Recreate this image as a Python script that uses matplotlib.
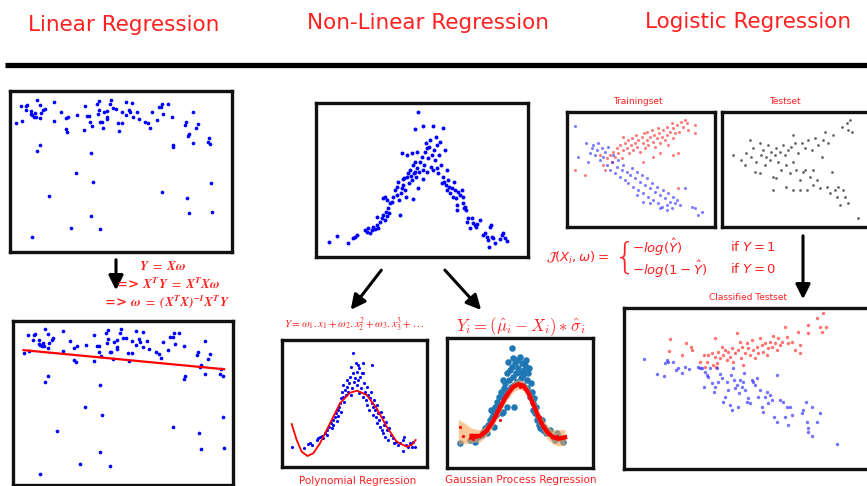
import matplotlib
matplotlib.use("Agg")
import matplotlib.pyplot as plt
import numpy as np

W, H = 867, 486
RED = "#ff2020"
HAND = ["DejaVu Sans"]

# ---- linear regression scatter (same points in both panels)
lin_x = [4.8, 6.5, 6.2, 7.8, 8.2, 7.7, 9.2, 9.2, 9.7, 10.4, 10.2, 10.8, 11.2, 12.0, 12.2, 12.0, 13.0, 13.4,
         16.2, 16.3, 18.3, 19.7, 20.5, 19.7, 20.0, 23.0, 25.5, 25.3, 26.2, 26.8, 27.0, 27.5, 29.0, 29.6, 29.6,
         29.3, 30.0, 30.5, 31.0, 31.2, 32.2, 32.2, 32.0, 33.2, 33.0, 34.0, 34.8, 35.3, 35.8, 36.5, 36.5, 37.7,
         37.7, 38.6, 39.0, 39.7, 39.8, 41.0, 41.6, 43.5, 44.5, 45.0, 45.7, 47.2, 47.6, 48.4, 48.7, 49.0, 50.4,
         51.7, 55.5, 55.8, 56.3, 56.8, 58.0, 58.8, 59.5, 62.6, 62.3, 63.1, 57.8, 51.8, 52.0,
         11.0, 12.0, 27.2, 22.8, 27.8, 14.6, 27.2, 21.3, 30.0, 9.5, 48.5, 56.2, 56.7, 63.2, 63.5]
lin_y = [38.7, 39.2, 43.7, 43.7, 44.0, 42.4, 42.2, 41.2, 41.0, 41.6, 40.5, 40.5, 45.4, 44.0, 41.5, 40.0, 42.4, 42.8,
         44.8, 39.2, 42.0, 40.2, 40.5, 36.7, 36.0, 41.0, 43.8, 36.5, 40.7, 40.6, 38.8, 37.8, 44.2, 45.2, 42.6,
         41.4, 38.8, 39.0, 37.0, 41.8, 42.2, 40.4, 39.8, 45.5, 44.2, 43.0, 42.8, 38.7, 36.3, 42.0, 38.7, 44.8,
         41.0, 42.5, 41.8, 44.7, 40.3, 42.0, 39.7, 38.8, 38.5, 37.2, 41.8, 39.6, 43.3, 43.3, 44.4, 41.3, 44.4,
         40.5, 38.0, 38.8, 34.7, 35.2, 42.0, 37.0, 38.3, 34.2, 32.8, 32.2, 32.7, 31.4, 32.0,
         30.3, 32.0, 29.5, 23.5, 21.0, 16.6, 10.6, 7.2, 6.7, 4.5, 17.8, 16.0, 11.5, 20.6, 11.8]
lin_fit = [39.9, -0.092]  # intercept, slope

# ---- non-linear scatter
nl_x = [8.8, 11.0, 14.5, 16.0, 16.5, 17.2, 19.5, 20.0, 20.5, 21.0, 21.5, 22.0, 22.5, 23.0, 23.5, 23.2, 24.0,
        24.5, 25.0, 25.5, 25.8, 26.2, 26.5, 26.8, 25.0, 25.5, 26.0, 27.0, 27.5, 28.0, 28.5, 29.0, 29.2, 29.5,
        29.8, 30.0, 30.2, 30.5, 30.8, 31.0, 31.2, 31.5, 31.8, 32.0, 32.5, 32.8, 33.0, 33.3, 33.5, 33.8, 34.0,
        34.2, 34.5, 34.8, 35.0, 35.2, 35.5, 35.8, 36.0, 36.5, 36.8, 37.0, 37.2, 37.5, 37.8, 38.0, 38.2, 38.5,
        38.8, 39.0, 39.2, 39.5, 39.8, 40.0, 40.2, 40.5, 40.8, 41.0, 41.2, 41.5, 41.8, 42.0, 42.2, 42.5, 42.8,
        43.0, 43.2, 43.5, 43.8, 44.0, 44.2, 44.5, 44.8, 45.0, 45.5, 45.8, 46.2, 46.5, 46.8, 47.0, 47.2, 47.5,
        48.0, 48.5, 48.8, 49.0, 49.2, 49.5, 49.8, 50.0, 50.5, 51.0, 51.5, 52.0, 52.5, 53.0, 52.8, 54.0, 55.0,
        55.5, 56.0, 56.5, 56.8, 57.0, 57.2, 57.5, 58.0, 58.5, 60.0, 60.5, 61.0, 61.5, 62.0,
        35.5, 34.5, 37.0, 30.7, 32.0, 33.5, 34.5]
nl_y = [4.5, 6.2, 4.0, 5.5, 6.0, 6.5, 8.0, 7.5, 8.5, 7.2, 8.0, 9.0, 8.2, 9.5, 8.5, 12.0, 10.5,
        11.5, 12.5, 11.0, 13.5, 12.2, 14.5, 13.2, 17.5, 18.0, 17.0, 16.0, 16.5, 18.0, 20.0, 18.5, 21.0, 22.5,
        17.0, 12.5, 19.0, 20.5, 23.2, 21.5, 23.5, 20.0, 18.0, 24.0, 25.0, 22.0, 26.0, 24.2, 23.0, 17.2, 27.5,
        25.2, 28.5, 23.8, 26.5, 31.5, 20.5, 25.5, 28.5, 30.0, 23.2, 26.0, 27.5, 31.5, 34.0, 25.5, 32.5, 29.5,
        33.0, 35.0, 26.8, 30.5, 39.2, 26.0, 32.0, 29.0, 36.0, 33.5, 26.5, 25.0, 30.5, 34.5, 27.5, 22.0, 38.7,
        24.0, 22.5, 32.0, 21.5, 26.0, 20.0, 23.0, 21.0, 19.0, 20.5, 18.0, 22.5, 20.0, 17.5, 15.5, 14.0, 19.5,
        18.5, 20.0, 16.0, 18.0, 14.5, 15.0, 14.0, 10.5, 11.5, 8.5, 11.5, 10.0, 9.5, 9.8, 9.0, 11.0, 6.5,
        7.0, 6.0, 5.0, 3.0, 8.8, 9.5, 6.0, 5.5, 4.0, 5.2, 6.5, 7.0, 5.5, 4.8,
        43.5, 38.2, 39.3, 31.0, 30.5, 31.0, 25.5]

# ---- polynomial regression
poly_x = [6.5, 10.3, 11.5, 12.0, 12.5, 14.0, 14.5, 15.0, 15.5, 16.0, 16.5, 17.0, 17.2, 17.8, 18.2, 18.5, 18.8,
          19.0, 19.5, 19.8, 20.0, 20.3, 20.5, 20.8, 21.0, 21.2, 21.3, 21.5, 21.8, 22.0, 22.2, 22.5, 22.8, 23.0,
          23.2, 23.5, 23.8, 24.0, 24.2, 24.4, 24.6, 24.8, 25.0, 25.2, 25.5, 25.8, 26.0, 26.2, 26.4, 26.6, 26.8,
          27.0, 27.2, 27.5, 27.8, 28.0, 28.2, 28.5, 28.8, 29.0, 29.2, 29.5, 29.8, 30.0, 30.2, 30.5, 30.8, 31.0,
          31.2, 31.5, 31.8, 32.0, 32.2, 32.5, 32.8, 33.0, 33.3, 33.5, 33.8, 34.0, 34.2, 34.5, 34.8, 35.0, 35.5,
          35.8, 36.2, 36.8, 37.2, 37.8, 38.5, 39.0, 39.8, 40.0, 40.2, 40.8, 41.5, 42.0, 42.5, 43.0, 43.5,
          30.5, 28.0, 26.5]
poly_y = [14.8, 14.5, 15.8, 16.2, 15.5, 17.0, 17.5, 17.8, 18.2, 17.5, 19.0, 20.0, 18.5, 21.0, 22.0, 20.5, 23.0,
          21.5, 24.0, 25.0, 22.8, 26.0, 24.2, 27.0, 28.0, 25.5, 29.5, 31.5, 33.5, 30.0, 28.5, 32.0, 30.5, 33.0,
          35.0, 31.5, 34.0, 36.0, 39.0, 30.5, 32.5, 37.0, 43.0, 34.5, 35.5, 40.0, 33.5, 37.5, 35.0, 31.0, 38.5,
          36.0, 32.5, 37.0, 40.0, 30.0, 34.0, 31.5, 29.0, 33.0, 27.5, 30.5, 26.0, 29.5, 31.5, 28.0, 27.0, 24.5,
          29.0, 26.0, 24.0, 27.5, 22.0, 25.0, 23.0, 21.0, 25.5, 20.0, 24.0, 19.0, 21.5, 18.0, 22.5, 20.0, 17.0,
          20.5, 18.5, 17.5, 16.0, 16.5, 15.5, 16.2, 17.0, 13.8, 18.0, 15.5, 14.8, 16.0, 15.0, 16.5, 15.0,
          39.5, 37.0, 39.5]
poly_curve_x = [6.5, 8.0, 9.5, 11.2, 13.0, 15.0, 18.0, 21.0, 24.0, 26.2, 29.0, 32.0, 35.0, 38.0, 41.0, 42.5, 43.7]
poly_curve_y = [21.8, 17.0, 13.5, 12.2, 13.0, 16.0, 22.0, 28.0, 31.2, 31.8, 30.5, 26.5, 21.0, 16.5, 15.0, 15.5, 17.0]

# ---- gaussian process regression
gp_x = [6.0, 9.0, 10.0, 10.5, 11.5, 12.5, 13.0, 13.5, 14.0, 14.5, 15.0, 15.2, 15.5, 16.0, 16.2, 16.5, 16.8,
        17.0, 17.5, 17.8, 18.0, 18.3, 18.5, 18.8, 19.0, 19.2, 19.5, 19.8, 20.0, 20.2, 20.5, 20.8, 21.0, 21.2,
        21.5, 21.5, 21.8, 22.0, 22.2, 22.5, 22.8, 23.0, 23.2, 23.5, 23.8, 24.0, 24.2, 24.5, 24.8, 25.0, 25.2,
        25.5, 25.8, 26.0, 26.2, 26.5, 26.8, 27.0, 27.2, 27.5, 27.8, 28.0, 28.2, 28.5, 28.8, 29.0, 29.5, 29.8,
        30.0, 30.5, 30.8, 31.2, 31.8, 32.5, 33.0, 33.8, 34.5, 35.2, 35.8, 36.5, 37.0, 22.2, 19.0, 20.0]
gp_y = [16.2, 17.0, 17.5, 16.5, 18.0, 18.5, 19.5, 20.5, 19.0, 21.5, 23.0, 26.0, 24.0, 25.5, 21.0, 27.0, 24.5,
        28.5, 26.0, 30.0, 27.5, 31.5, 25.0, 35.0, 29.5, 32.5, 34.0, 30.5, 37.0, 32.0, 40.5, 35.0, 38.0, 33.0,
        44.5, 39.0, 36.0, 41.5, 33.5, 40.0, 37.0, 41.0, 34.5, 38.5, 37.5, 42.0, 35.5, 40.0, 33.5, 36.5, 38.0,
        39.5, 41.0, 35.0, 32.5, 37.0, 38.5, 30.0, 34.0, 31.5, 28.0, 26.0, 29.5, 25.0, 27.0, 23.0, 24.0, 21.5,
        20.5, 23.0, 20.0, 21.0, 19.0, 19.5, 20.0, 18.0, 17.0, 19.0, 18.0, 17.0, 16.5, 27.0, 25.5, 27.0]
gp_train_x = [6.0, 6.8, 9.0, 10.0, 10.8, 18.0, 19.0, 24.0, 30.0, 31.0, 32.0, 33.5, 35.0]
gp_train_y = [21.0, 18.2, 17.5, 17.2, 17.8, 23.0, 28.5, 33.0, 24.0, 21.0, 19.5, 18.0, 18.2]
gp_grid = [5.5, 7.5, 9.5, 12.0, 14.0, 16.0, 18.0, 20.0, 22.0, 23.5, 25.0, 26.5, 28.0, 29.5, 31.0, 32.5, 34.0, 35.5, 37.5]
gp_mean = [19.5, 18.8, 18.2, 18.2, 19.8, 22.8, 26.8, 30.4, 33.0, 33.7, 33.3, 31.2, 27.7, 24.0, 21.0, 19.0, 17.8, 17.4, 17.8]
gp_upper = [23.2, 22.0, 20.5, 20.0, 21.5, 24.5, 28.5, 32.0, 34.5, 35.2, 34.8, 32.8, 29.5, 26.0, 23.0, 21.0, 20.0, 20.0, 20.2]
gp_lower = [15.7, 16.0, 16.2, 16.5, 18.2, 21.2, 25.2, 28.8, 31.5, 32.2, 31.8, 29.5, 25.8, 22.0, 19.2, 17.0, 15.7, 15.2, 15.5]

# ---- logistic: training set
tr_red_x = [4.5, 7.5, 13.0, 14.0, 15.0, 15.5, 16.0, 16.5, 17.0, 17.5, 18.0, 18.5, 19.0, 19.5, 20.0, 20.5, 20.8,
            21.2, 21.5, 22.0, 22.5, 22.8, 23.2, 23.5, 24.0, 24.5, 24.8, 25.2, 25.5, 26.0, 26.2, 26.5, 27.0, 27.5,
            27.8, 28.2, 28.5, 29.0, 29.5, 29.8, 30.0, 30.5, 31.0, 31.5, 32.0, 32.2, 32.5, 33.0, 33.5, 33.8, 34.0,
            34.5, 35.0, 35.5, 35.8, 36.2, 37.0, 37.5, 38.0, 38.5, 40.5, 40.5, 34.0, 35.5, 12.0, 13.5, 25.0, 28.0,
            30.0, 19.0]
tr_red_y = [26.0, 24.5, 27.5, 29.5, 30.5, 28.5, 31.5, 30.0, 32.5, 31.0, 33.5, 29.5, 32.0, 34.0, 32.5, 35.0, 31.0,
            33.5, 35.5, 32.0, 34.0, 36.5, 33.0, 35.0, 31.5, 36.0, 34.0, 37.0, 32.5, 35.0, 37.5, 33.5, 36.0, 38.0,
            34.5, 36.5, 33.0, 35.5, 38.5, 37.0, 34.0, 36.0, 38.0, 35.0, 39.0, 36.5, 33.5, 37.5, 40.0, 35.5, 38.5,
            37.0, 39.5, 31.0, 37.5, 40.5, 39.0, 41.0, 40.0, 38.0, 39.5, 37.0, 30.5, 20.5, 30.5, 26.0, 28.5, 30.0,
            31.0, 36.0]
tr_blue_x = [4.5, 5.5, 7.8, 8.5, 9.0, 9.5, 10.0, 10.5, 11.0, 11.5, 12.0, 12.5, 13.0, 13.5, 14.0, 14.5, 15.0,
             15.5, 16.0, 16.5, 17.0, 17.5, 18.0, 18.5, 19.0, 19.5, 20.0, 20.5, 21.0, 21.5, 22.0, 22.5, 23.0, 23.5,
             24.0, 24.5, 25.0, 25.5, 26.0, 26.5, 27.0, 27.5, 28.0, 28.5, 29.0, 29.5, 30.0, 30.5, 31.0, 31.5, 32.0,
             32.5, 33.0, 33.5, 34.0, 34.5, 35.0, 36.0, 37.5, 39.5, 40.5, 42.5, 41.5, 30.0, 32.0, 27.0, 25.0, 23.0]
tr_blue_y = [39.2, 30.0, 34.2, 28.5, 31.0, 32.5, 33.5, 30.5, 32.0, 34.0, 29.0, 32.5, 30.0, 31.5, 27.5, 33.0, 26.0,
             28.5, 30.5, 25.0, 27.0, 29.0, 24.0, 26.0, 27.5, 23.0, 25.5, 22.0, 24.5, 26.5, 21.0, 23.5, 25.5, 20.0,
             22.5, 24.5, 19.0, 21.5, 23.5, 18.0, 20.5, 22.0, 17.0, 19.5, 21.0, 16.0, 18.5, 15.0, 20.0, 17.5, 15.5,
             19.0, 16.5, 14.5, 18.0, 16.0, 17.0, 15.5, 20.5, 15.0, 14.5, 13.5, 12.5, 14.5, 14.0, 16.0, 16.5, 18.5]

# ---- logistic: test set
te_x = [52.0, 54.5, 55.5, 56.0, 57.0, 57.5, 58.0, 59.0, 60.0, 60.5, 61.0, 61.5, 62.0, 62.5, 63.0, 63.5, 64.0,
        64.5, 65.0, 65.5, 66.0, 66.5, 67.0, 67.5, 68.0, 68.5, 69.0, 69.5, 70.0, 70.0, 70.5, 71.0, 71.5, 72.0,
        72.5, 73.0, 73.5, 74.0, 74.5, 75.0, 75.5, 76.0, 76.5, 77.0, 77.5, 78.0, 78.5, 79.0, 79.5, 80.0, 80.5,
        81.0, 81.5, 82.0, 82.5, 83.0, 83.5, 84.0, 84.5, 85.0, 85.5, 86.0, 86.5, 87.0, 87.5, 86.5, 89.5, 68.0,
        70.0, 73.5, 76.0, 72.0, 65.0, 60.0, 58.5, 64.0]
te_y = [30.5, 29.0, 27.5, 31.0, 35.0, 30.0, 32.5, 28.5, 34.0, 30.5, 32.0, 27.5, 30.0, 33.5, 29.0, 31.5, 24.0,
        30.5, 32.5, 28.5, 31.5, 26.0, 33.5, 30.5, 27.5, 32.0, 25.0, 33.0, 36.5, 28.5, 34.0, 26.0, 31.0, 23.0,
        34.0, 25.5, 32.5, 20.0, 35.0, 24.0, 32.0, 21.5, 35.5, 23.0, 33.5, 20.5, 30.0, 35.0, 37.5, 21.0, 34.0,
        19.0, 25.5, 36.5, 20.0, 18.0, 21.0, 15.5, 39.0, 20.0, 18.0, 40.0, 38.0, 41.0, 37.5, 16.0, 11.5, 21.0,
        20.0, 26.0, 26.0, 20.0, 23.5, 25.0, 25.5, 20.0]

# ---- logistic: classified test set
cl_red_x = [16.5, 16.2, 20.0, 21.2, 22.8, 23.0, 25.5, 26.8, 27.5, 28.0, 29.0, 29.5, 30.0, 30.0, 30.5, 31.0, 31.5,
            32.0, 32.5, 33.0, 33.5, 34.0, 34.5, 35.0, 35.5, 36.0, 36.5, 37.0, 37.5, 37.8, 38.0, 38.5, 39.0, 39.5,
            40.0, 40.5, 41.0, 41.5, 42.0, 42.5, 43.0, 43.5, 44.0, 44.5, 45.0, 45.5, 46.0, 46.5, 47.0, 47.5, 48.0,
            48.5, 49.0, 49.5, 50.0, 51.0, 51.5, 52.0, 53.0, 54.0, 55.0, 55.5, 55.5, 57.8, 58.0, 60.5, 61.5, 62.0,
            62.5, 63.2, 27.0, 30.2]
cl_red_y = [38.2, 34.8, 33.5, 37.2, 36.0, 35.0, 31.5, 33.5, 31.5, 33.5, 34.0, 30.5, 38.5, 33.0, 31.0, 34.5, 32.5,
            36.0, 33.5, 35.0, 32.0, 34.5, 33.0, 35.5, 31.5, 34.0, 40.2, 35.0, 37.5, 32.5, 36.0, 30.5, 34.0, 37.0,
            35.5, 33.5, 38.0, 35.0, 32.5, 36.0, 34.0, 38.5, 36.5, 34.5, 37.0, 33.5, 35.5, 37.5, 36.0, 39.2, 37.0,
            35.0, 38.5, 36.5, 37.5, 42.0, 39.0, 37.0, 37.5, 35.0, 40.5, 36.5, 34.0, 40.0, 42.5, 44.5, 42.0, 40.5,
            46.0, 42.0, 30.0, 30.0]
cl_blue_x = [8.8, 12.5, 14.8, 15.0, 15.5, 15.8, 17.5, 18.2, 19.0, 20.0, 21.0, 22.2, 24.8, 25.5, 26.2, 26.8, 27.0,
             27.5, 28.0, 28.5, 29.2, 29.8, 30.0, 30.5, 31.0, 31.5, 32.0, 32.5, 33.0, 33.5, 34.0, 34.5, 34.8, 35.0,
             35.5, 35.8, 36.0, 36.5, 37.0, 37.2, 37.5, 38.0, 38.5, 38.8, 39.0, 39.5, 40.0, 40.5, 41.0, 41.5, 42.0,
             42.5, 43.0, 43.5, 44.0, 44.5, 45.0, 45.5, 46.0, 46.5, 47.0, 47.8, 48.5, 48.5, 49.5, 50.5, 51.0, 51.5,
             52.0, 52.5, 53.0, 56.0, 56.5, 57.2, 57.5, 57.8, 58.0, 59.0, 59.0, 60.5, 61.5, 66.5]
cl_blue_y = [32.2, 27.8, 27.2, 31.0, 32.0, 31.5, 31.5, 29.0, 29.5, 28.2, 29.8, 29.2, 30.0, 29.5, 29.5, 23.8, 28.5,
             27.5, 27.0, 29.5, 25.2, 22.5, 24.0, 29.5, 25.5, 27.8, 26.5, 19.5, 21.0, 25.5, 23.0, 18.5, 27.5, 17.0,
             29.5, 26.0, 23.5, 24.5, 18.0, 22.0, 26.0, 24.0, 25.5, 28.0, 23.0, 19.5, 20.5, 19.0, 26.0, 25.5, 24.5,
             26.5, 21.0, 23.0, 18.0, 16.5, 21.0, 22.5, 19.0, 21.5, 20.0, 15.0, 27.5, 13.5, 20.0, 19.5, 15.0, 18.0,
             12.5, 18.0, 15.5, 16.0, 17.0, 19.5, 13.5, 11.5, 10.5, 9.2, 18.0, 13.5, 16.2, 6.8]

fig = plt.figure(figsize=(W / 100, H / 100), dpi=100)
fig.patch.set_facecolor("white")


def px(x, y):
    return x / W, 1 - y / H


def panel(l, t, r, b, xlim, ylim):
    ax = fig.add_axes([l / W, 1 - b / H, (r - l) / W, (b - t) / H])
    ax.set_xticks([])
    ax.set_yticks([])
    ax.set_xlim(*xlim)
    ax.set_ylim(*ylim)
    for s in ax.spines.values():
        s.set_linewidth(2.4)
        s.set_color("#111111")
    return ax


# layout layer for arrows and separator
lay = fig.add_axes([0, 0, 1, 1])
lay.set_xlim(0, W)
lay.set_ylim(H, 0)
lay.axis("off")
lay.plot([5, W], [65.5, 65.5], color="black", lw=3.8, solid_capstyle="butt")
arrows = [((116, 257), (116, 293)), ((383, 268), (349, 312)), ((443, 268), (483, 312)), ((803, 233), (803, 302))]
for (x0, y0), (x1, y1) in arrows:
    lay.annotate("", xy=(x1, y1), xytext=(x0, y0),
                 arrowprops=dict(arrowstyle="-|>", color="black", lw=2.2, mutation_scale=22))

# titles
for label, cx, cy in [("Linear Regression", 124, 25), ("Non-Linear Regression", 428, 23),
                      ("Logistic Regression", 748, 22)]:
    fig.text(*px(cx, cy), label, color=RED, fontsize=15.5, family=HAND, ha="center", va="center")

# linear regression panels
ax1 = panel(10, 91, 232, 252, (3.0, 69.6), (-0.1, 48.2))
ax1.scatter(lin_x, lin_y, s=7, color="blue", linewidths=0)

ax2 = panel(13, 321, 233, 485, (1.7, 66.1), (1.3, 47.7))
ax2.scatter(lin_x, lin_y, s=7, color="blue", linewidths=0)
xs = np.array([min(lin_x), max(lin_x)])
ax2.plot(xs, lin_fit[0] + lin_fit[1] * xs, color="red", lw=1.6)

eq_kw = dict(color=RED, fontsize=9.5, ha="center", va="center", family="DejaVu Serif",
             fontweight="bold", math_fontfamily="stix")
fig.text(*px(163, 267), r"$\mathbfit{Y}\ =\ \mathbfit{X\omega}$", **eq_kw)
fig.text(*px(168, 284), r"=> $\mathbfit{X^TY}\ =\ \mathbfit{X^TX\omega}$", **eq_kw)
fig.text(*px(167, 302), r"=> $\mathbfit{\omega}\ =\ \mathbfit{(X^TX)^{-1}X^TY}$", **eq_kw)

# non-linear panels
ax3 = panel(316, 103, 528, 257, (4.8, 68.4), (-0.1, 46.1))
ax3.scatter(nl_x, nl_y, s=8, color="blue", linewidths=0)

ax4 = panel(282, 340, 427, 467, (3.6, 47.1), (8.9, 47.0))
ax4.scatter(poly_x, poly_y, s=5, color="blue", linewidths=0)
ax4.plot(poly_curve_x, poly_curve_y, color="red", lw=1.3)

ax5 = panel(447, 338, 593, 468, (2.1, 45.9), (8.6, 47.6))
ax5.scatter(gp_x, gp_y, s=22, color="#1f77b4", linewidths=0, zorder=1)
ax5.fill_between(gp_grid, gp_lower, gp_upper, color="#f5a65b", alpha=0.6, linewidth=0, zorder=2)
ax5.plot(gp_grid[2:], gp_mean[2:], color="red", lw=3.2, zorder=3)
ax5.scatter(gp_train_x, gp_train_y, s=5, color="red", linewidths=0, zorder=4)

fig.text(*px(354, 325), r"$Y = \omega_1.x_1 + \omega_2.x_2^2 + \omega_3.x_3^3 + ...$", color=RED,
         fontsize=8, ha="center", va="center", math_fontfamily="stix")
fig.text(*px(521, 327), r"$Y_i = (\hat{\mu}_i - X_i) * \hat{\sigma}_i$", color=RED,
         fontsize=12, ha="center", va="center", math_fontfamily="cm")
fig.text(*px(358, 481), "Polynomial Regression", color=RED, fontsize=7.5, family=HAND, ha="center", va="center")
fig.text(*px(521, 480), "Gaussian Process Regression", color=RED, fontsize=7.5, family=HAND,
         ha="center", va="center")

# logistic panels
ax6 = panel(567, 112, 715, 227, (2.1, 46.5), (8.9, 43.4))
ax6.scatter(tr_red_x, tr_red_y, s=5, color="red", alpha=0.5, linewidths=0)
ax6.scatter(tr_blue_x, tr_blue_y, s=5, color="blue", alpha=0.5, linewidths=0)

ax7 = panel(722, 112, 880, 227, (48.7, 96.0), (8.9, 43.4))
ax7.scatter(te_x, te_y, s=4, color="black", alpha=0.6, linewidths=0)

ax8 = panel(624, 308, 880, 469, (2.7, 79.5), (-0.7, 47.6))
ax8.scatter(cl_red_x, cl_red_y, s=6, color="red", alpha=0.55, linewidths=0)
ax8.scatter(cl_blue_x, cl_blue_y, s=6, color="blue", alpha=0.55, linewidths=0)

fig.text(*px(638, 101), "Trainingset", color=RED, fontsize=6.5, family=HAND, ha="center", va="center")
fig.text(*px(785, 101), "Testset", color=RED, fontsize=6.5, family=HAND, ha="center", va="center")
fig.text(*px(748, 297), "Classified Testset", color=RED, fontsize=6.5, family=HAND, ha="center", va="center")

cost_kw = dict(color=RED, fontsize=9.5, va="center", math_fontfamily="dejavusans")
fig.text(*px(546, 258), r"$\mathcal{J}(X_i, \omega) =$", ha="left", **cost_kw)
fig.text(*px(624, 258), "{", color=RED, fontsize=25, ha="center", va="center", fontweight="light")
fig.text(*px(632, 247), r"$-log(\hat{Y})$", ha="left", **cost_kw)
fig.text(*px(632, 269), r"$-log(1 - \hat{Y})$", ha="left", **cost_kw)
fig.text(*px(730, 247), r"if $Y = 1$", ha="left", **cost_kw)
fig.text(*px(730, 269), r"if $Y = 0$", ha="left", **cost_kw)

fig.savefig("out.png", dpi=100, facecolor="white")
